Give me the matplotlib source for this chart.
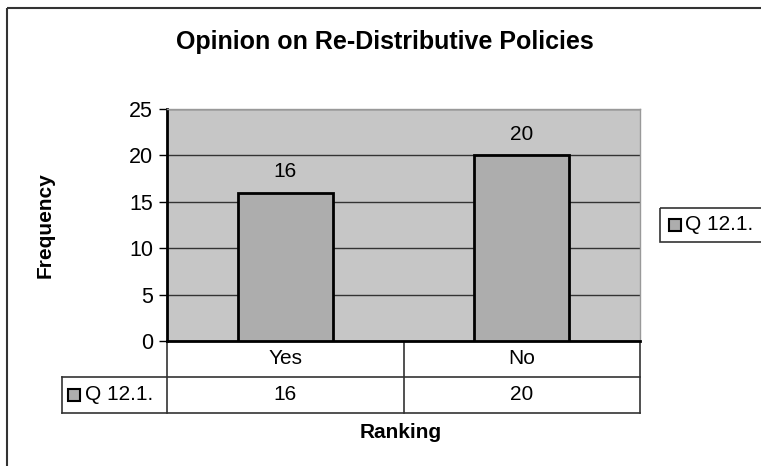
import matplotlib.pyplot as plt
from matplotlib.patches import Rectangle

plt.rcParams["font.family"] = ["Liberation Sans", "DejaVu Sans"]

# data
categories = ["Yes", "No"]
values = [16, 20]
series_name = "Q 12.1."
y_ticks = [0, 5, 10, 15, 20, 25]

W, H = 761, 466
fig = plt.figure(figsize=(W / 100, H / 100), dpi=100)

# overlay in pixel coords for frame, table and legend
ov = fig.add_axes([0, 0, 1, 1], zorder=0)
ov.set_xlim(0, W)
ov.set_ylim(H, 0)
ov.axis("off")

# plot area box (pixels)
left, right, top, bottom = 167, 640, 109, 341
ax = fig.add_axes([left / W, 1 - bottom / H, (right - left) / W, (bottom - top) / H], zorder=2)
ax.set_facecolor("#c6c6c6")
x = list(range(len(categories)))
ax.bar(x, values, width=0.4, color="#adadad", edgecolor="black", linewidth=2, zorder=3)
ax.set_xlim(-0.5, len(categories) - 0.5)
ax.set_ylim(0, 25)
ax.set_yticks(y_ticks)
ax.set_xticks([])
ax.yaxis.grid(True, color="#333333", linewidth=1)
ax.set_axisbelow(True)
ax.tick_params(axis="y", labelsize=15.5, length=6, width=1, pad=4)
for side in ["top", "right"]:
    ax.spines[side].set_color("#999999")
    ax.spines[side].set_linewidth(1)
ax.spines["left"].set_linewidth(2)
ax.spines["bottom"].set_linewidth(2)
for xi, v in zip(x, values):
    ax.text(xi, v + 1.2, str(v), ha="center", va="bottom", fontsize=15)

# outer frame
ov.add_patch(Rectangle((7, 8), 800, 500, fill=False, edgecolor="#333333", linewidth=1.5))

# title and axis labels
ov.text(385, 42, "Opinion on Re-Distributive Policies", ha="center", va="center",
        fontsize=18, fontweight="bold")
ov.text(45, 225, "Frequency", ha="center", va="center", rotation=90,
        fontsize=15, fontweight="bold")
ov.text(401, 433, "Ranking", ha="center", va="center", fontsize=15, fontweight="bold")

# data table under the plot
row1, row2, row3 = 341, 377, 413
mid = (left + right) / 2
lc = "#333333"
ov.plot([left, left], [row1, row3], color=lc, lw=1.2)
ov.plot([mid, mid], [row1, row3], color=lc, lw=1.2)
ov.plot([right, right], [row1, row3], color=lc, lw=1.2)
ov.plot([62, right], [row2, row2], color=lc, lw=1.2)
ov.plot([62, right], [row3, row3], color=lc, lw=1.2)
ov.plot([62, 62], [row2, row3], color=lc, lw=1.2)
col_w = (right - left) / len(categories)
for i, (c, v) in enumerate(zip(categories, values)):
    cx = left + col_w * (i + 0.5)
    ov.text(cx, (row1 + row2) / 2, c, ha="center", va="center", fontsize=15)
    ov.text(cx, (row2 + row3) / 2, str(v), ha="center", va="center", fontsize=15)
ov.add_patch(Rectangle((68, 389), 12, 12, facecolor="#adadad", edgecolor="black", lw=1.5))
ov.text(85, (row2 + row3) / 2, series_name, ha="left", va="center", fontsize=15)

# legend on the right
ov.add_patch(Rectangle((660, 208), 120, 34, fill=False, edgecolor=lc, lw=1.2))
ov.add_patch(Rectangle((669, 219), 12, 12, facecolor="#adadad", edgecolor="black", lw=1.5))
ov.text(685, 225, series_name, ha="left", va="center", fontsize=15)

fig.savefig("out.png", dpi=100)
